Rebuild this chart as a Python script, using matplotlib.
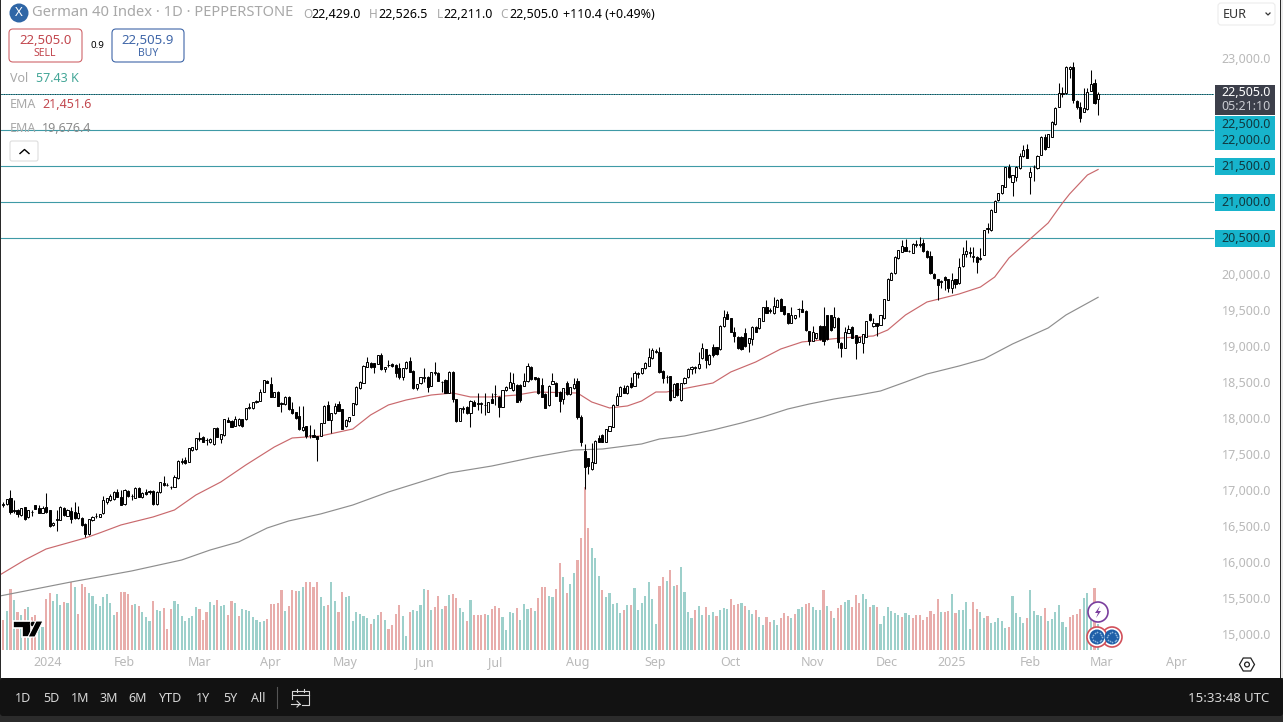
import numpy as np
import matplotlib
matplotlib.use("Agg")
import matplotlib.pyplot as plt
from matplotlib.patches import Rectangle, FancyBboxPatch, Circle, Polygon

plt.rcParams['font.family'] = ['Noto Sans', 'DejaVu Sans']

opens = [16795,16800,16888,16718,16721,16657,16758,16620,16695,16786,
16745,16684,16758,16721,16513,16580,16583,16750,16643,16703,
16698,16606,16606,16527,16383,16583,16640,16625,16675,16837,
16860,16870,16976,16897,16805,16990,16912,16893,17022,16897,
16976,16980,16990,16805,16967,17092,17065,17040,17046,17161,
17390,17416,17393,17555,17569,17710,17731,17690,17661,17638,
17856,17712,17763,17971,17962,17893,17902,17981,17981,18133,
18133,18217,18240,18365,18518,18472,18296,18365,18200,18194,
18286,18120,18078,18027,17833,17888,17763,17763,17749,17750,
17935,18180,17972,18064,18189,18125,17888,17958,18041,18189,
18412,18490,18713,18768,18759,18750,18875,18676,18730,18745,
18736,18689,18564,18689,18791,18657,18412,18481,18560,18574,
18449,18625,18629,18500,18527,18351,18643,18259,17962,18130,
18157,18064,18226,18200,18200,18175,18088,18259,18330,18296,
18157,18388,18421,18388,18458,18458,18449,18509,18713,18564,
18555,18458,18333,18180,18472,18490,18365,18263,18481,18328,
18412,18513,18009,17546,17439,17287,17379,17726,17763,17671,
17824,17879,18180,18305,18421,18342,18481,18449,18615,18620,
18690,18727,18829,18912,18912,18653,18570,18583,18296,18481,
18250,18481,18565,18680,18700,18690,18829,18954,18750,18981,
18981,18954,19278,19444,19384,19199,19130,19130,19176,19037,
19092,19268,19245,19352,19546,19490,19454,19546,19653,19555,
19454,19324,19384,19510,19509,19491,19208,19074,19106,19278,
19278,19430,19430,19259,19389,19046,18977,19185,19259,19148,
19060,19046,19130,19444,19278,19315,19292,19384,19639,19917,
20009,20218,20310,20370,20315,20296,20408,20405,20426,20324,
20250,20000,19930,19893,19963,19926,19801,19926,19870,20111,
20277,20295,20240,20240,20213,20264,20630,20611,20865,21027,
21120,21213,21490,21282,21352,21467,21639,21731,21342,21485,
21467,21653,21898,21768,21907,22083,22324,22505,22509,22847,
22870,22407,22324,22254,22291,22546,22648,22429]

highs = [16837,16870,17000,16860,16730,16755,16770,16725,16721,16790,
16790,16775,16953,16725,16550,16721,16775,16760,16740,16768,
16833,16777,16620,16535,16600,16635,16684,16670,16916,16895,
16944,16985,17008,16999,17010,17005,16944,17045,17045,16965,
17008,17005,17000,16980,17115,17194,17090,17055,17208,17415,
17439,17453,17585,17600,17725,17800,17750,17720,17715,17865,
17870,17780,17990,18008,17970,18032,17995,17990,18140,18203,
18225,18250,18402,18530,18525,18573,18365,18375,18215,18305,
18305,18226,18085,18166,18166,17895,17902,17842,17755,17935,
18175,18236,18070,18203,18236,18130,17980,18015,18210,18440,
18510,18735,18842,18775,18770,18880,18907,18710,18805,18760,
18750,18759,18695,18790,18842,18665,18475,18570,18689,18580,
18640,18773,18640,18515,18537,18650,18650,18265,18140,18166,
18165,18245,18250,18342,18215,18342,18225,18342,18458,18305,
18395,18440,18643,18620,18465,18465,18620,18768,18720,18570,
18565,18550,18340,18455,18629,18497,18375,18420,18518,18435,
18550,18550,18041,17638,17445,17648,17690,17763,17775,17850,
17895,18190,18342,18442,18458,18455,18564,18657,18643,18697,
18775,18967,18967,18953,18991,18660,18600,18590,18480,18490,
18490,18570,18690,18722,18720,18921,19037,18960,18882,19028,
18990,19290,19500,19486,19392,19268,19137,19137,19245,19114,
19275,19275,19392,19545,19639,19530,19676,19646,19660,19562,
19461,19546,19437,19525,19639,19498,19215,19282,19183,19285,
19546,19437,19437,19537,19407,19053,19268,19292,19278,19155,
19128,19173,19354,19463,19384,19322,19437,19655,19942,20025,
20248,20340,20472,20481,20340,20424,20472,20518,20481,20331,
20324,20007,19937,19920,19970,19933,20009,19933,20218,20379,
20472,20379,20379,20247,20356,20618,20703,20896,21025,21127,
21243,21490,21527,21377,21497,21676,21791,21801,21481,21514,
21653,21915,21944,21951,22123,22317,22648,22602,22886,22886,
22949,22414,22393,22578,22578,22833,22703,22526.5]

lows = [16758,16790,16666,16684,16629,16645,16585,16615,16638,16735,
16680,16680,16685,16480,16505,16434,16580,16640,16635,16536,
16600,16600,16505,16342,16375,16575,16606,16620,16660,16800,
16850,16860,16900,16785,16790,16905,16860,16885,16900,16890,
16935,16950,16790,16795,16960,17060,17050,17020,17040,17155,
17355,17360,17385,17545,17560,17685,17665,17624,17655,17630,
17735,17647,17755,17940,17870,17885,17895,17880,17975,18125,
18125,18210,18235,18360,18485,18290,18290,18160,18087,18185,
18115,18058,17988,17835,17825,17717,17717,17735,17407,17745,
17930,17965,17796,18058,18090,17840,17880,17950,18035,18180,
18405,18485,18705,18695,18629,18745,18670,18643,18712,18715,
18574,18537,18527,18680,18635,18405,18388,18475,18504,18365,
18440,18597,18510,18365,18345,18345,18226,17950,17955,18074,
18058,17879,18165,18111,18074,18041,18080,18205,18180,18018,
18150,18380,18415,18380,18220,18226,18440,18500,18530,18530,
18335,18290,18135,18170,18465,18300,18088,18189,18325,18320,
18405,17981,17611,17009,17217,17280,17370,17665,17665,17665,
17815,17870,18175,18300,18345,18335,18420,18440,18560,18612,
18683,18720,18820,18905,18628,18481,18481,18240,18285,18310,
18240,18475,18560,18610,18620,18685,18820,18690,18742,18852,
18880,18945,19270,19372,19190,19060,18960,18950,18992,18912,
19014,19192,19238,19345,19456,19460,19447,19540,19484,19437,
19301,19316,19378,19398,19470,19215,19014,19068,19098,19085,
19014,19085,19215,19252,18967,18842,18970,19178,19104,18815,
19053,18898,19122,19354,19270,19143,19285,19377,19632,19910,
20002,20210,20303,20317,20300,20289,20370,20370,20312,20224,
20002,19933,19639,19801,19778,19745,19741,19801,19863,20104,
20231,20231,20171,20009,20194,20257,20574,20604,20858,21020,
21113,21206,21335,21088,21296,21460,21632,21608,21106,21296,
21460,21646,21724,21761,21900,22076,22317,22463,22502,22717,
22379,22287,22116,22247,22284,22539,22361,22211]

closes = [16805,16870,16698,16708,16661,16745,16596,16721,16700,16740,
16684,16745,16698,16499,16545,16590,16768,16652,16721,16601,
16606,16684,16513,16388,16592,16629,16645,16665,16860,16883,
16916,16971,16907,16791,17000,16916,16918,17032,16907,16957,
16944,16970,16805,16971,17106,17069,17070,17046,17175,17407,
17396,17370,17578,17592,17717,17722,17671,17696,17708,17856,
17740,17772,17981,17948,17879,17981,17985,17888,18133,18157,
18217,18240,18365,18522,18490,18296,18356,18166,18207,18296,
18120,18064,17995,17842,17879,17749,17757,17740,17703,17925,
18166,17972,18064,18166,18097,17847,17972,18009,18203,18435,
18504,18726,18773,18703,18703,18870,18676,18703,18736,18722,
18629,18574,18689,18782,18643,18412,18467,18564,18566,18435,
18634,18640,18518,18504,18351,18643,18259,17958,18134,18137,
18064,18236,18171,18206,18205,18182,18217,18212,18335,18157,
18388,18435,18495,18481,18226,18250,18509,18722,18537,18537,
18342,18296,18143,18449,18518,18305,18240,18412,18333,18426,
18472,18009,17671,17314,17338,17393,17680,17671,17671,17842,
17888,18180,18305,18435,18351,18449,18426,18620,18622,18690,
18768,18852,18944,18935,18634,18560,18574,18250,18472,18319,
18481,18560,18680,18712,18708,18745,18967,18805,18875,18875,
18889,19282,19407,19380,19199,19143,18967,18958,19000,19106,
19268,19199,19384,19537,19463,19496,19555,19639,19491,19444,
19324,19430,19430,19520,19477,19222,19074,19199,19176,19092,
19074,19092,19222,19398,19060,18967,19199,19231,19111,19046,
19120,19166,19347,19361,19324,19278,19430,19648,19935,20018,
20241,20333,20389,20324,20320,20417,20414,20410,20319,20231,
20009,19940,19847,19897,19917,19801,19917,19861,20102,20277,
20319,20302,20245,20171,20220,20611,20636,20889,21018,21120,
21236,21481,21342,21370,21490,21639,21722,21615,21412,21490,
21639,21907,21731,21944,22116,22310,22509,22512,22879,22879,
22417,22315,22171,22301,22523,22639,22379,22505]

# volume in thousands
volumes = [68,88,137,112,86,79,92,96,75,79,
64,52,115,129,111,126,101,109,105,154,
142,82,148,142,128,122,104,98,120,126,
106,79,86,130,130,126,101,104,98,86,
74,65,110,90,88,94,47,92,110,104,
76,65,71,76,96,92,68,86,107,101,
112,98,101,79,110,105,77,92,90,88,
75,68,62,65,69,104,104,106,135,88,
99,135,133,133,141,154,154,142,154,120,
98,101,152,111,86,130,120,122,66,86,
81,76,72,58,69,79,86,68,47,56,
81,101,76,32,86,90,88,101,137,135,
90,96,122,92,99,124,126,117,94,85,
65,112,79,79,79,82,79,92,99,94,
74,45,86,84,94,68,104,92,94,88,
117,142,142,122,119,137,196,164,128,148,
173,202,252,366,274,230,207,166,135,119,
128,104,106,83,90,101,101,140,90,106,
122,153,115,58,144,164,155,180,144,146,
187,130,86,72,90,99,79,97,79,86,
76,90,94,92,115,101,104,106,99,90,
81,90,74,56,74,63,68,56,72,83,
76,72,81,92,97,104,106,97,90,90,
135,99,88,72,94,101,108,112,97,124,
106,126,115,97,101,97,58,76,97,88,
83,79,74,83,79,72,79,79,68,74,
88,81,115,86,86,87,126,83,90,90,
108,47,108,92,86,72,76,61,63,72,
65,50,52,122,83,74,61,72,135,88,
79,76,94,65,70,86,101,63,52,74,
79,81,92,117,128,90,140,57.43]

vol_dirs = ("rgrgrgrgrr" "ggrrgggrgr" "grrrgggggg" "ggrrrrrgrg" "ggrggrrrgg"
            "gggggrrrgg" "rggrrgrggg" "ggggrrrrrg" "rrrggrrrrg" "grggrrgggg"
            "gggrggrgrr" "rrggrggggr" "grrgrgrrgg" "rgrrrrgrrr" "ggggrgggrg"
            "rrrggrrgrg" "grrrrgggrg" "ggggrgrggg" "ggggrrgrgr" "ggggrggrgg"
            "rgggrrrgrg" "grggrrggrr" "rgrggrrggg" "rgrgrrggrr" "rggrgrgggg"
            "ggrggrrrrr" "rrrgrrgrgg" "ggrrggrggg" "ggrggggrgg" "ggrggggggr"
            "rrrgggrg")

ema50_idx = [-1,6,12,23,27,33,42,48,54,61,68,76,81,89,98,103,108,113,120,126,131,137,144,149,161,165,170,175,179,183,186,199,204,211,218,224,235,244,248,253,259,268,274,278,282,287,293,297,299,304,307]
ema50_val = [15819,16027,16180,16333,16403,16514,16625,16722,16930,17111,17347,17597,17722,17750,17847,18042,18181,18250,18319,18347,18292,18292,18319,18361,18347,18222,18139,18167,18236,18361,18361,18486,18639,18778,18958,19056,19111,19139,19222,19431,19611,19722,19819,19958,20222,20445,20709,20986,21111,21375,21451.6]

ema200_idx = [-1,19,36,50,58,66,74,80,89,98,108,117,125,137,149,160,168,179,184,191,199,207,213,220,226,233,240,246,253,259,268,275,283,293,298,307]
ema200_val = [15527,15722,15875,16027,16166,16278,16472,16569,16667,16791,16972,17111,17236,17333,17458,17555,17569,17639,17708,17750,17833,17931,18014,18125,18194,18264,18320,18375,18500,18611,18722,18820,19028,19250,19431,19676.4]

level_prices = [22000, 21500, 21000, 20500]
last_price = 22505.0

price_ticks = [23000, 20000, 19500, 19000, 18500, 18000, 17500, 17000, 16500, 16000, 15500, 15000]
price_labels = ["{:,.1f}".format(p) for p in price_ticks]

date_pos = [12.3, 33.8, 54.9, 74.8, 95.8, 118, 138, 161, 182.8, 203.8, 226.8, 247.8, 266, 287.9, 307.9, 329]
date_labels = ["2024", "Feb", "Mar", "Apr", "May", "Jun", "Jul", "Aug", "Sep", "Oct", "Nov", "Dec", "2025", "Feb", "Mar", "Apr"]

W, H = 1283, 722
fig = plt.figure(figsize=(W / 100, H / 100), dpi=100, facecolor="white")

# pane spans x 1..1214 and y 0..650 in pixels
pos = [1 / W, (H - 650) / H, 1213 / W, 650 / H]

vax = fig.add_axes(pos, zorder=1)
vax.set_xlim(-0.645, 339.5)
vax.set_ylim(0, 1462.5)
vax.axis("off")

x = np.arange(len(closes))
vcol = ["#9dd0cb" if d == "g" else "#e8adab" for d in vol_dirs]
vax.bar(x, volumes, width=0.6, color=vcol, linewidth=0)

ax = fig.add_axes(pos, zorder=2)
ax.patch.set_alpha(0)
ax.set_xlim(-0.645, 339.5)
ax.set_ylim(14777, 23806)
for s in ax.spines.values():
    s.set_visible(False)

o = np.array(opens)
c = np.array(closes)
ax.plot(ema200_idx, ema200_val, color="#8e8e8e", lw=0.85, zorder=2)
ax.plot(ema50_idx, ema50_val, color="#c9696d", lw=0.85, zorder=2)

for p in level_prices:
    ax.axhline(p, color="#3f9aa6", lw=0.8, zorder=1)
ax.axhline(22500, color="#3f9aa6", lw=0.7, zorder=1)
ax.axhline(last_price, color="#143b44", lw=0.7, ls=(0, (1, 1.5)), zorder=1)

ax.vlines(x, lows, highs, color="black", lw=0.75, zorder=3)
body_col = ["white" if cc >= oo else "black" for oo, cc in zip(o, c)]
ax.bar(x, np.abs(c - o), bottom=np.minimum(o, c), width=0.6, color=body_col,
       edgecolor="black", linewidth=0.7, zorder=4)

ax.yaxis.tick_right()
ax.set_yticks(price_ticks)
ax.set_yticklabels(price_labels, color="#b9b9b9", fontsize=9, va="center_baseline")
ax.set_xticks(date_pos)
ax.set_xticklabels(date_labels, color="#b9b9b9", fontsize=9)
ax.tick_params(axis="both", length=0)
ax.tick_params(axis="y", pad=5.5)
ax.tick_params(axis="x", pad=4.5)
for lab in ax.get_xticklabels():
    if lab.get_text() in ("2024", "2025"):
        lab.set_fontweight("bold")

# screen furniture in pixel coordinates
ui = fig.add_axes([0, 0, 1, 1], zorder=5)
ui.set_xlim(0, W)
ui.set_ylim(H, 0)
ui.axis("off")
ui.patch.set_alpha(0)


def txt(px, py, s, color="black", size=9, ha="left", **kw):
    ui.text(px, py, s, color=color, fontsize=size, ha=ha, va="center", **kw)


def box(x0, y0, x1, y1, fc, ec="none", r=3, lw=0.8):
    ui.add_patch(FancyBboxPatch((x0 + r, y0 + r), x1 - x0 - 2 * r, y1 - y0 - 2 * r,
                                boxstyle="round,pad={}".format(r), fc=fc, ec=ec, lw=lw))


# header
ui.add_patch(Circle((19, 13), 9.5, fc="#2f66a6", ec="none"))
txt(19, 13, "X", color="white", size=9.5, ha="center")
txt(32, 13, "German 40 Index · 1D · PEPPERSTONE", color="#a8a8a8", size=10.6)
txt(303, 14, "O", color="#a8a8a8", size=8.5)
txt(311, 14, "22,429.0", size=9)
txt(369, 14, "H", color="#a8a8a8", size=8.5)
txt(378, 14, "22,526.5", size=9)
txt(437, 14, "L", color="#a8a8a8", size=8.5)
txt(443, 14, "22,211.0", size=9)
txt(500, 14, "C", color="#a8a8a8", size=8.5)
txt(509, 14, "22,505.0", size=9)
txt(563, 14, "+110.4 (+0.49%)", size=9)

box(9, 29, 82, 62, "white", "#d0656a", r=4)
txt(46, 40, "22,505.0", color="#c2474e", size=9.5, ha="center")
txt(45, 54, "SELL", color="#c2474e", size=7.5, ha="center")
txt(97, 46, "0.9", size=7, ha="center")
box(112, 29, 184, 62, "white", "#3f66a8", r=4)
txt(148, 40, "22,505.9", color="#3f66a8", size=9.5, ha="center")
txt(148, 54, "BUY", color="#3f66a8", size=7.5, ha="center")

txt(10, 79, "Vol", color="#a8a8a8", size=9)
txt(36, 79, "57.43 K", color="#43a697", size=9)
txt(10, 104, "EMA", color="#a8a8a8", size=9)
txt(42, 104, "21,451.6", color="#c2474e", size=9)
txt(10, 128, "EMA", color="#a8a8a8", size=9)
txt(42, 128, "19,676.4", color="#8b8b8b", size=9)
box(10, 141, 38, 161, "white", "#dddddd", r=2)
ui.plot([20, 24.5, 29], [153.5, 149.5, 153.5], color="black", lw=1.0)

box(1218, 3, 1275, 25, "white", "#ececec", r=3)
txt(1223, 14, "EUR", color="#333333", size=9)
ui.plot([1266, 1268, 1270], [13, 15, 13], color="#333333", lw=0.9)

# price labels on the scale
ui.add_patch(Rectangle((1215, 85), 60, 30, fc="#3c3f4a", ec="none"))
txt(1271, 93, "22,505.0", color="white", size=9, ha="right")
txt(1271, 107, "05:21:10", color="#c9cbd1", size=9, ha="right")
ui.add_patch(Rectangle((1215, 116), 60, 34, fc="#17b4cc", ec="none"))
txt(1271, 124, "22,500.0", color="#10383f", size=9, ha="right")
txt(1271, 141, "22,000.0", color="#10383f", size=9, ha="right")
for py, s in zip([166, 202, 238], ["21,500.0", "21,000.0", "20,500.0"]):
    ui.add_patch(Rectangle((1215, py - 8.5), 60, 17, fc="#17b4cc", ec="none"))
    txt(1271, py, s, color="#10383f", size=9, ha="right")

# TradingView mark
ui.add_patch(Polygon([[13, 621], [31, 621], [31, 637], [22, 637], [22, 628], [13, 628]], fc="black", ec="white", lw=1.2))
ui.add_patch(Circle((33, 624), 2.8, fc="black", ec="white", lw=0.5))
ui.add_patch(Polygon([[36, 621], [43, 621], [35, 637], [28, 637]], fc="black", ec="white", lw=0.8))

# event markers
ui.add_patch(Circle((1098, 612), 10, fc="white", ec="#7a3e9d", lw=1.2, zorder=6))
ui.add_patch(Polygon([[1100, 606], [1095, 613], [1098, 613], [1096, 618], [1101, 611], [1098, 611]], fc="#7a3e9d", ec="none", zorder=7))
for cx in [1112, 1097]:
    ui.add_patch(Circle((cx, 637), 10, fc="white", ec="#d2505a", lw=1.2, zorder=6))
    ui.add_patch(Circle((cx, 637), 7.5, fc="#1f5fa8", ec="none", zorder=7))
    ang = np.arange(12) * np.pi / 6
    ui.scatter(cx + 5 * np.cos(ang), 637 + 5 * np.sin(ang), s=1.5, color="#8fb7dd", zorder=8, linewidths=0)

# settings hexagon
ang = np.arange(6) * np.pi / 3
ui.add_patch(Polygon(np.c_[1247 + 7.5 * np.cos(ang), 664.5 + 7.5 * np.sin(ang)], fc="white", ec="#222222", lw=0.9))
ui.add_patch(Circle((1247, 664.5), 2.4, fc="white", ec="#222222", lw=0.9))

# borders and bottom bar
ui.add_patch(Rectangle((0, 0), 1, 678, fc="#2a2a2a", ec="none"))
ui.add_patch(Rectangle((1280, 0), 1, 678, fc="#2a2a2a", ec="none"))
ui.add_patch(Rectangle((1281, 0), 2, 678, fc="#ececec", ec="none"))
ui.add_patch(Rectangle((0, 678), W, 44, fc="#2b2b2b", ec="none"))
ui.add_patch(FancyBboxPatch((3, 681), W - 6, 32, boxstyle="round,pad=3", fc="#121212", ec="none"))

for px, s in zip([23, 51, 80, 109, 138, 171, 203, 230, 258],
                 ["1D", "5D", "1M", "3M", "6M", "YTD", "1Y", "5Y", "All"]):
    txt(px, 698, s, color="#d8d8d8", size=9, ha="center")
ui.plot([277, 277], [687, 708], color="#555555", lw=0.8)
# calendar icon
ui.plot([292, 292, 309, 309, 302], [699, 691, 691, 705, 705], color="#d8d8d8", lw=0.8)
ui.plot([292, 309], [695, 695], color="#d8d8d8", lw=0.8)
ui.plot([297, 297], [689, 692], color="#d8d8d8", lw=0.8)
ui.plot([304, 304], [689, 692], color="#d8d8d8", lw=0.8)
ui.plot([291, 300], [704, 704], color="#d8d8d8", lw=0.8)
ui.plot([297, 300, 297], [701, 704, 707], color="#d8d8d8", lw=0.8)
txt(1269, 698, "15:33:48 UTC", color="#d8d8d8", size=9.5, ha="right")

fig.savefig("out.png", dpi=100)
